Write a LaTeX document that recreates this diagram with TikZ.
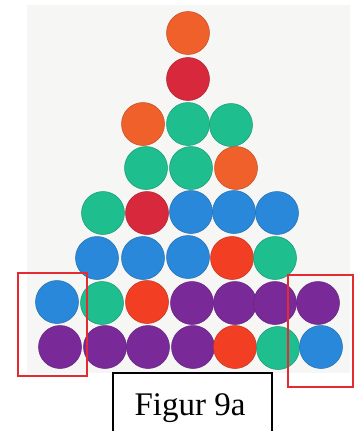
\documentclass[tikz,border=0pt]{standalone}
\usepackage{fontspec}
\setmainfont{Liberation Serif}
\definecolor{cOr}{HTML}{F0602A}
\definecolor{cRd}{HTML}{D8283C}
\definecolor{cOr2}{HTML}{F23E22}
\definecolor{cGr}{HTML}{1EBE8E}
\definecolor{cBl}{HTML}{2A88DA}
\definecolor{cPu}{HTML}{7A2A98}
\definecolor{photo}{HTML}{F6F6F5}
\definecolor{boxred}{HTML}{E62A32}
\begin{document}
\begin{tikzpicture}[x=1pt,y=-1pt,
  disc/.style={circle,minimum size=43pt,inner sep=0pt,fill=#1,draw=#1!80!black,line width=0.5pt},
  redbox/.style={draw=boxred,line width=1.3pt},
  figbox/.style={draw=black,line width=1.4pt}]
\useasboundingbox (0,0) rectangle (355,431);
\fill[photo] (27,5) rectangle (350,373);
% row 1
\node[disc=cOr] (a1) at (188,33) {};
% row 2
\node[disc=cRd] (b1) at (188,79) {};
% row 3
\node[disc=cOr] (c1) at (143,124) {};
\node[disc=cGr] (c2) at (188,124) {};
\node[disc=cGr] (c3) at (231,125) {};
% row 4
\node[disc=cGr] (d1) at (146,168) {};
\node[disc=cGr] (d2) at (191,168) {};
\node[disc=cOr] (d3) at (236,168) {};
% row 5
\node[disc=cGr] (e1) at (103,213) {};
\node[disc=cRd] (e2) at (147,213) {};
\node[disc=cBl] (e3) at (191,212) {};
\node[disc=cBl] (e4) at (234,212) {};
\node[disc=cBl] (e5) at (277,213) {};
% row 6
\node[disc=cBl] (f1) at (97,258) {};
\node[disc=cBl] (f2) at (143,258) {};
\node[disc=cBl] (f3) at (188,257) {};
\node[disc=cOr2] (f4) at (232,258) {};
\node[disc=cGr] (f5) at (275,258) {};
% row 7
\node[disc=cBl] (g1) at (57,302) {};
\node[disc=cGr] (g2) at (102,303) {};
\node[disc=cOr2] (g3) at (147,302) {};
\node[disc=cPu] (g4) at (192,303) {};
\node[disc=cPu] (g5) at (235,303) {};
\node[disc=cPu] (g6) at (275,303) {};
\node[disc=cPu] (g7) at (318,303) {};
% row 8
\node[disc=cPu] (h1) at (60,347) {};
\node[disc=cPu] (h2) at (105,347) {};
\node[disc=cPu] (h3) at (148,347) {};
\node[disc=cPu] (h4) at (193,347) {};
\node[disc=cOr2] (h5) at (235,347) {};
\node[disc=cGr] (h6) at (278,348) {};
\node[disc=cBl] (h7) at (321,347) {};
% red boxes
\draw[redbox] (18,273) rectangle (87,376);
\draw[redbox] (288,275) rectangle (353,387);
% caption box (bottom edge outside the picture)
\begin{scope}
\clip (0,0) rectangle (355,431);
\draw[figbox] (113,373) rectangle (272,440);
\end{scope}
\node[anchor=base,inner sep=0pt,font=\fontsize{33}{36}\selectfont] (cap) at (190,415) {Figur 9a};
\end{tikzpicture}
\end{document}
